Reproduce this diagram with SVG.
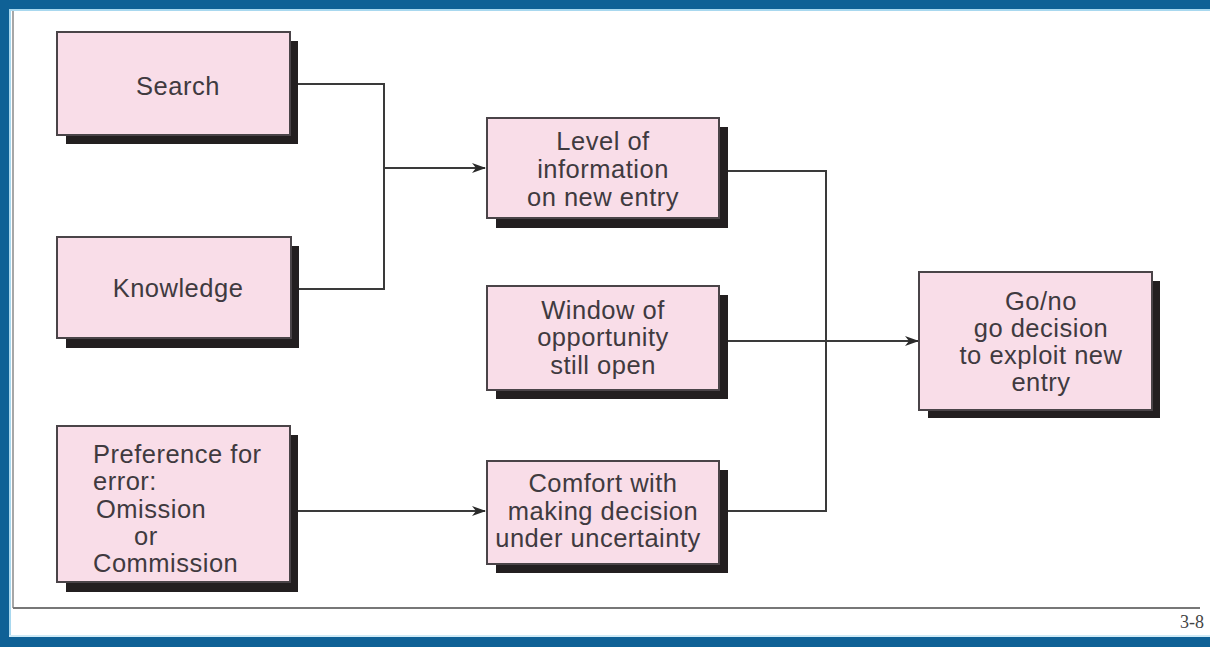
<svg xmlns="http://www.w3.org/2000/svg" width="1210" height="647" viewBox="0 0 1210 647">
<style>
.box{fill:#f9dde8;stroke:#4a4448;stroke-width:2}
.sh{fill:#231f20}
.t{font-family:"Liberation Sans",Arial,sans-serif;font-size:25.5px;letter-spacing:0.5px;fill:#403a3f;text-anchor:middle}
.tl{font-family:"Liberation Sans",Arial,sans-serif;font-size:25.5px;letter-spacing:0.5px;fill:#403a3f}
.c{fill:none;stroke:#3a3a3a;stroke-width:2}
</style>
<defs>
<marker id="ah" markerWidth="14" markerHeight="10" refX="13" refY="5" orient="auto" markerUnits="userSpaceOnUse">
<path d="M0,0 L14,5 L0,10 L4,5 Z" fill="#2a2a2a"/>
</marker>
</defs>
<rect x="0" y="0" width="1210" height="647" fill="#ffffff"/>
<rect x="0" y="0" width="1210" height="9" fill="#0f6196"/>
<rect x="0" y="9" width="1210" height="2" fill="#a8d8ef"/>
<rect x="0" y="0" width="9" height="647" fill="#0f6196"/>
<rect x="9" y="9" width="2" height="628" fill="#a8d8ef"/>
<rect x="0" y="637" width="1210" height="10" fill="#0f6196"/>
<rect x="9" y="635" width="1201" height="2" fill="#cfeaf6"/>
<line x1="13" y1="11" x2="13" y2="608" stroke="#8a8a8a" stroke-width="1.5"/>
<line x1="13" y1="608" x2="1200" y2="608" stroke="#777" stroke-width="2"/>
<text x="1204" y="628" font-family="'Liberation Serif','Times New Roman',serif" font-size="18" fill="#444" text-anchor="end">3-8</text>

<g id="connectors">
<path class="c" d="M291,84 H384 V289 H291"/>
<path class="c" d="M384,168 H485" marker-end="url(#ah)"/>
<path class="c" d="M291,511 H485" marker-end="url(#ah)"/>
<path class="c" d="M719,171 H826 V511 H719"/>
<path class="c" d="M719,341 H918" marker-end="url(#ah)"/>
</g>

<g id="search">
<rect class="sh" x="66" y="41" width="232" height="103"/>
<rect class="box" x="57" y="32" width="233" height="103"/>
<text class="t" x="178" y="95">Search</text>
</g>
<g id="knowledge">
<rect class="sh" x="66" y="246" width="233" height="102"/>
<rect class="box" x="57" y="237" width="234" height="101"/>
<text class="t" x="178" y="297">Knowledge</text>
</g>
<g id="preference">
<rect class="sh" x="66" y="435" width="232" height="157"/>
<rect class="box" x="57" y="426" width="233" height="156"/>
<text class="tl" x="93" y="463">Preference for</text>
<text class="tl" x="93" y="490">error:</text>
<text class="tl" x="96" y="518">Omission</text>
<text class="tl" x="134" y="545">or</text>
<text class="tl" x="93" y="572">Commission</text>
</g>
<g id="level">
<rect class="sh" x="496" y="127" width="232" height="101"/>
<rect class="box" x="487" y="118" width="232" height="100"/>
<text class="t" x="603" y="150">Level of</text>
<text class="t" x="603" y="178">information</text>
<text class="t" x="603" y="206">on new entry</text>
</g>
<g id="window">
<rect class="sh" x="496" y="295" width="232" height="104"/>
<rect class="box" x="487" y="286" width="232" height="104"/>
<text class="t" x="603" y="319">Window of</text>
<text class="t" x="603" y="346">opportunity</text>
<text class="t" x="603" y="374">still open</text>
</g>
<g id="comfort">
<rect class="sh" x="496" y="470" width="232" height="103"/>
<rect class="box" x="487" y="461" width="232" height="103"/>
<text class="t" x="603" y="492">Comfort with</text>
<text class="t" x="603" y="520">making decision</text>
<text class="t" x="598" y="547">under uncertainty</text>
</g>
<g id="decision">
<rect class="sh" x="928" y="281" width="232" height="137"/>
<rect class="box" x="919" y="272" width="233" height="138"/>
<text class="t" x="1041" y="310">Go/no</text>
<text class="t" x="1041" y="337">go decision</text>
<text class="t" x="1041" y="364">to exploit new</text>
<text class="t" x="1041" y="391">entry</text>
</g>
</svg>
